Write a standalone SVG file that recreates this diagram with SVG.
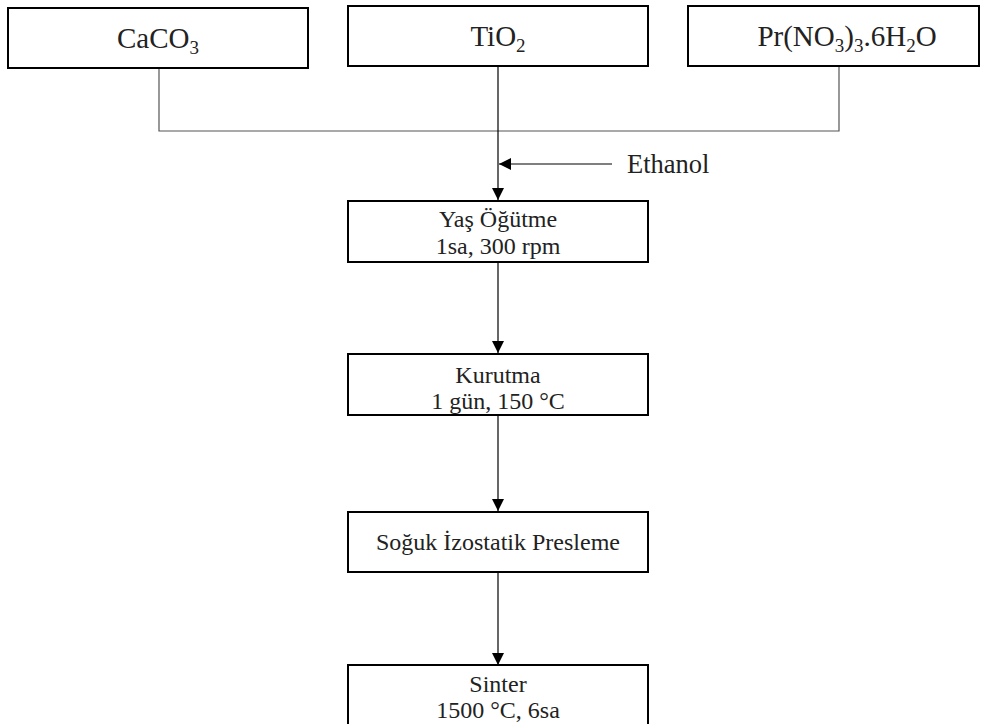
<svg xmlns="http://www.w3.org/2000/svg" width="981" height="724" viewBox="0 0 981 724">
<defs>
<style>
.box{fill:#fff;stroke:#000;stroke-width:2}
.t{font-family:"Liberation Serif","Times New Roman",serif;fill:#222;text-anchor:middle}
.big{font-size:29px}
.eth{font-size:26.5px}
.mid{font-size:24px}
.ln{fill:none;stroke:#000;stroke-width:1.2}
.gl{fill:none;stroke:#555;stroke-width:1.2}
</style>
<marker id="ah" viewBox="0 0 12 12" refX="12" refY="6" markerWidth="12" markerHeight="12" markerUnits="userSpaceOnUse" orient="auto">
<path d="M0,0 L12,6 L0,12 Z" fill="#000"/>
</marker>
</defs>
<rect width="981" height="724" fill="#fff"/>
<g id="connectors">
<polyline class="gl" points="159,68 159,131 839,131 839,66"/>
<line class="ln" x1="498" y1="66" x2="498" y2="200" marker-end="url(#ah)"/>
<line class="ln" x1="612" y1="164" x2="499" y2="164" marker-end="url(#ah)"/>
<line class="ln" x1="498" y1="262" x2="498" y2="353" marker-end="url(#ah)"/>
<line class="ln" x1="498" y1="415" x2="498" y2="511" marker-end="url(#ah)"/>
<line class="ln" x1="498" y1="572" x2="498" y2="665" marker-end="url(#ah)"/>
</g>
<g id="caco3">
<rect class="box" x="8" y="8" width="300" height="60"/>
<text class="t big" x="158" y="48">CaCO<tspan font-size="19" dy="6">3</tspan></text>
</g>
<g id="tio2">
<rect class="box" x="348" y="6" width="300" height="60"/>
<text class="t big" x="498" y="46">TiO<tspan font-size="19" dy="6">2</tspan></text>
</g>
<g id="prno3">
<rect class="box" x="688" y="6" width="291" height="60"/>
<text class="t big" x="847" y="46">Pr(NO<tspan font-size="19" dy="6">3</tspan><tspan dy="-6">)</tspan><tspan font-size="19" dy="6">3</tspan><tspan dy="-6">.6H</tspan><tspan font-size="19" dy="6">2</tspan><tspan dy="-6">O</tspan></text>
</g>
<g id="ethanol">
<text class="t eth" x="627" y="173" style="text-anchor:start">Ethanol</text>
</g>
<g id="yas-ogutme">
<rect class="box" x="348" y="201" width="300" height="61"/>
<text class="t mid" x="498" y="227">Yaş Öğütme</text>
<text class="t mid" x="498" y="254">1sa, 300 rpm</text>
</g>
<g id="kurutma">
<rect class="box" x="348" y="354" width="300" height="61"/>
<text class="t mid" x="498" y="383">Kurutma</text>
<text class="t mid" x="498" y="409">1 gün, 150 °C</text>
</g>
<g id="presleme">
<rect class="box" x="348" y="512" width="300" height="60"/>
<text class="t mid" x="498" y="550">Soğuk İzostatik Presleme</text>
</g>
<g id="sinter">
<rect class="box" x="348" y="665" width="300" height="70"/>
<text class="t mid" x="498" y="692">Sinter</text>
<text class="t mid" x="498" y="718">1500 °C, 6sa</text>
</g>
</svg>
